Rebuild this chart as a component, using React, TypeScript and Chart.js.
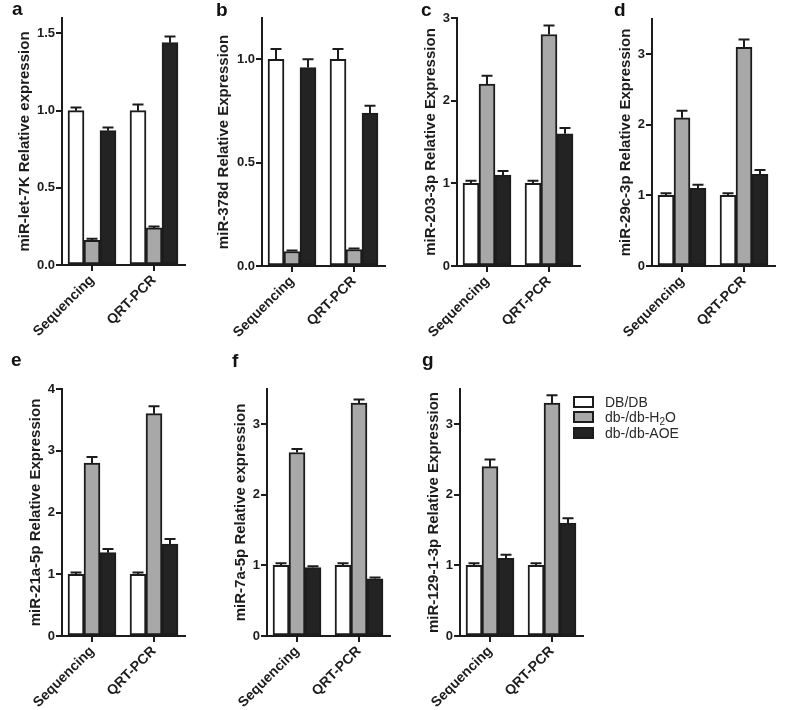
import React, { useEffect, useRef } from 'react';
import { Chart, registerables } from 'chart.js';

Chart.register(...registerables);

// ---------- data ----------
const categories = ['Sequencing', 'QRT-PCR'];
const seriesLabels = ['DB/DB', 'db-/db-H2O', 'db-/db-AOE'];

const aDB = [1.0, 1.0];
const aDBErr = [0.02, 0.04];
const aH2O = [0.16, 0.24];
const aH2OErr = [0.01, 0.01];
const aAOE = [0.87, 1.44];
const aAOEErr = [0.02, 0.04];

const bDB = [1.0, 1.0];
const bDBErr = [0.05, 0.05];
const bH2O = [0.07, 0.08];
const bH2OErr = [0.005, 0.005];
const bAOE = [0.96, 0.74];
const bAOEErr = [0.04, 0.035];

const cDB = [1.0, 1.0];
const cDBErr = [0.03, 0.03];
const cH2O = [2.2, 2.8];
const cH2OErr = [0.1, 0.11];
const cAOE = [1.1, 1.6];
const cAOEErr = [0.05, 0.07];

const dDB = [1.0, 1.0];
const dDBErr = [0.03, 0.03];
const dH2O = [2.1, 3.1];
const dH2OErr = [0.1, 0.11];
const dAOE = [1.1, 1.3];
const dAOEErr = [0.05, 0.06];

const eDB = [1.0, 1.0];
const eDBErr = [0.03, 0.03];
const eH2O = [2.8, 3.6];
const eH2OErr = [0.1, 0.12];
const eAOE = [1.35, 1.49];
const eAOEErr = [0.06, 0.08];

const fDB = [1.0, 1.0];
const fDBErr = [0.03, 0.03];
const fH2O = [2.6, 3.3];
const fH2OErr = [0.05, 0.05];
const fAOE = [0.97, 0.81];
const fAOEErr = [0.02, 0.02];

const gDB = [1.0, 1.0];
const gDBErr = [0.03, 0.03];
const gH2O = [2.4, 3.3];
const gH2OErr = [0.1, 0.11];
const gAOE = [1.1, 1.6];
const gAOEErr = [0.05, 0.07];

// ---------- styles / layout ----------
const FONT = '"Liberation Sans", Arial, Helvetica, sans-serif';
const AXIS = '#1c1c1c';
const TEXT = '#1c1c1c';
const seriesFill = ['#ffffff', '#a8a8a8', '#232323'];

const GAP_LEFT = 30;
const SPACING = 62;
const GAP_RIGHT = 31;
const BAR = 16;
const XAXIS_H = 85;
const TOP_PAD = 8;
const RIGHT_PAD = 6;
const TITLE_SIZE = 15;
const TITLE_HALF = (TITLE_SIZE * 1.2) / 2;

type Panel = {
  letter: string;
  title: string;
  values: number[][];
  errors: number[][];
  max: number;
  step: number;
  decimals: number;
  axisX: number;
  yTop: number;
  yBottom: number;
  titleX: number;
  letterX: number;
  letterBase: number;
};

const panels: Panel[] = [
  { letter: 'a', title: 'miR-let-7K Relative expression', values: [aDB, aH2O, aAOE], errors: [aDBErr, aH2OErr, aAOEErr], max: 1.6, step: 0.5, decimals: 1, axisX: 62, yTop: 18, yBottom: 265, titleX: 25, letterX: 12, letterBase: 15 },
  { letter: 'b', title: 'miR-378d Relative Expression', values: [bDB, bH2O, bAOE], errors: [bDBErr, bH2OErr, bAOEErr], max: 1.2, step: 0.5, decimals: 1, axisX: 262, yTop: 18, yBottom: 266, titleX: 224, letterX: 216, letterBase: 16 },
  { letter: 'c', title: 'miR-203-3p Relative Expression', values: [cDB, cH2O, cAOE], errors: [cDBErr, cH2OErr, cAOEErr], max: 3, step: 1, decimals: 0, axisX: 457, yTop: 18, yBottom: 266, titleX: 431, letterX: 421, letterBase: 16 },
  { letter: 'd', title: 'miR-29c-3p Relative Expression', values: [dDB, dH2O, dAOE], errors: [dDBErr, dH2OErr, dAOEErr], max: 3.5, step: 1, decimals: 0, axisX: 652, yTop: 19, yBottom: 266, titleX: 626, letterX: 614, letterBase: 16 },
  { letter: 'e', title: 'miR-21a-5p Relative Expression', values: [eDB, eH2O, eAOE], errors: [eDBErr, eH2OErr, eAOEErr], max: 4, step: 1, decimals: 0, axisX: 62, yTop: 389, yBottom: 636, titleX: 36, letterX: 11, letterBase: 366 },
  { letter: 'f', title: 'miR-7a-5p Relative expression', values: [fDB, fH2O, fAOE], errors: [fDBErr, fH2OErr, fAOEErr], max: 3.5, step: 1, decimals: 0, axisX: 267, yTop: 389, yBottom: 636, titleX: 241, letterX: 232, letterBase: 367 },
  { letter: 'g', title: 'miR-129-1-3p Relative Expression', values: [gDB, gH2O, gAOE], errors: [gDBErr, gH2OErr, gAOEErr], max: 3.5, step: 1, decimals: 0, axisX: 460, yTop: 389, yBottom: 636, titleX: 434, letterX: 422, letterBase: 366 },
];

const errorBarPlugin = {
  id: 'errorBars',
  afterDatasetsDraw(chart: any) {
    const ctx = chart.ctx;
    const yScale = chart.scales.y;
    chart.data.datasets.forEach((ds: any, di: number) => {
      const meta = chart.getDatasetMeta(di);
      meta.data.forEach((bar: any, i: number) => {
        const v = ds.data[i].y;
        const e = ds.errors[i];
        const yEnd = yScale.getPixelForValue(v + e);
        ctx.save();
        ctx.strokeStyle = AXIS;
        ctx.lineWidth = 2;
        ctx.beginPath();
        ctx.moveTo(bar.x, bar.y);
        ctx.lineTo(bar.x, yEnd);
        ctx.moveTo(bar.x - 5.5, yEnd);
        ctx.lineTo(bar.x + 5.5, yEnd);
        ctx.stroke();
        ctx.restore();
      });
    });
  },
};

function geometry(p: Panel) {
  const canvasLeft = Math.round(p.titleX - TITLE_HALF);
  const xEnd = p.axisX + GAP_LEFT + SPACING + GAP_RIGHT;
  const canvasTop = p.yTop - TOP_PAD;
  const width = xEnd - canvasLeft + RIGHT_PAD;
  const height = p.yBottom - canvasTop + XAXIS_H;
  return { canvasLeft, canvasTop, width, height };
}

function PanelChart({ p }: { p: Panel }) {
  const ref = useRef<HTMLCanvasElement | null>(null);
  const g = geometry(p);
  useEffect(() => {
    if (!ref.current) return;
    const yAxisWidth = p.axisX - g.canvasLeft;
    const chart = new Chart(ref.current, {
      type: 'bar',
      data: {
        datasets: p.values.map((vals, si) => ({
          label: seriesLabels[si],
          data: vals.map((v, ci) => ({ x: ci, y: v })),
          backgroundColor: seriesFill[si],
          borderColor: AXIS,
          borderWidth: 2,
          borderSkipped: false,
          barThickness: BAR,
          errors: p.errors[si],
        })) as any,
      },
      options: {
        animation: false,
        responsive: false,
        devicePixelRatio: 1,
        layout: { padding: { top: TOP_PAD, right: RIGHT_PAD, left: 0, bottom: 0 } },
        plugins: {
          legend: { display: false },
          tooltip: { enabled: false },
          title: { display: false },
        },
        scales: {
          x: {
            type: 'linear',
            min: -GAP_LEFT / SPACING,
            max: 1 + GAP_RIGHT / SPACING,
            offset: false,
            grid: { display: true, offset: false, drawOnChartArea: false, drawTicks: true, tickLength: 6, color: AXIS, lineWidth: 2 },
            border: { display: true, color: AXIS, width: 2 },
            ticks: {
              autoSkip: false,
              minRotation: 45,
              maxRotation: 45,
              padding: 1,
              color: TEXT,
              font: { family: FONT, size: 14, weight: 'bold' },
              callback: (v: any) => categories[Number(v)] ?? '',
            },
            afterBuildTicks: (s: any) => {
              s.ticks = categories.map((_, i) => ({ value: i }));
            },
            afterFit: (s: any) => {
              s.height = XAXIS_H;
              s.paddingLeft = 0;
              s.paddingRight = 0;
            },
          },
          y: {
            type: 'linear',
            min: 0,
            max: p.max,
            grid: { display: true, drawOnChartArea: false, drawTicks: true, tickLength: 6, color: AXIS, lineWidth: 2 },
            border: { display: true, color: AXIS, width: 2 },
            ticks: {
              stepSize: p.step,
              includeBounds: false,
              padding: 1,
              color: TEXT,
              font: { family: FONT, size: 13, weight: 'bold' },
              callback: (v: any) => Number(v).toFixed(p.decimals),
            },
            title: {
              display: true,
              text: p.title,
              padding: 0,
              color: TEXT,
              font: { family: FONT, size: TITLE_SIZE, weight: 'bold' },
            },
            afterFit: (s: any) => {
              s.width = yAxisWidth;
              s.paddingTop = 0;
              s.paddingBottom = 0;
            },
          },
        },
      } as any,
      plugins: [errorBarPlugin],
    });
    return () => chart.destroy();
  }, []);
  return (
    <>
      <canvas
        ref={ref}
        width={g.width}
        height={g.height}
        style={{ position: 'absolute', left: g.canvasLeft, top: g.canvasTop, width: g.width, height: g.height }}
      />
      <div
        style={{
          position: 'absolute',
          left: p.letterX,
          top: p.letterBase - 16,
          font: `bold 19px/19px ${FONT}`,
          color: '#111',
        }}
      >
        {p.letter}
      </div>
    </>
  );
}

function LegendLabel({ text }: { text: string }) {
  const idx = text.indexOf('H2O');
  if (idx < 0) return <>{text}</>;
  return (
    <>
      {text.slice(0, idx)}H<sub style={{ fontSize: 10, verticalAlign: -3, lineHeight: 0 }}>2</sub>O{text.slice(idx + 3)}
    </>
  );
}

const legendRowTops = [396, 411, 427];

export default function App() {
  return (
    <div style={{ position: 'absolute', left: 0, top: 0, width: 787, height: 710, background: '#ffffff', overflow: 'hidden' }}>
      {panels.map((p) => (
        <PanelChart key={p.letter} p={p} />
      ))}
      {seriesLabels.map((lab, i) => (
        <React.Fragment key={lab}>
          <div
            style={{
              position: 'absolute',
              left: 573,
              top: legendRowTops[i],
              width: 21,
              height: 12,
              boxSizing: 'border-box',
              border: `2px solid ${AXIS}`,
              background: seriesFill[i],
            }}
          />
          <div
            style={{
              position: 'absolute',
              left: 605,
              top: legendRowTops[i] - 3,
              font: `14px/18px ${FONT}`,
              color: '#2a2a2a',
              whiteSpace: 'nowrap',
            }}
          >
            <LegendLabel text={lab} />
          </div>
        </React.Fragment>
      ))}
    </div>
  );
}
